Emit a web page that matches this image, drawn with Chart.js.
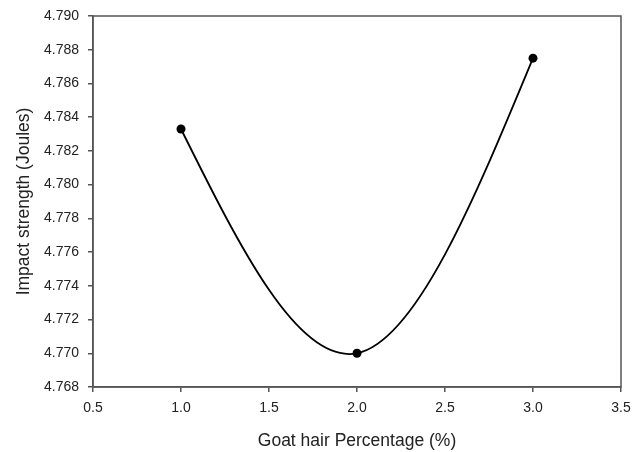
<!DOCTYPE html>
<html>
<head>
<meta charset="utf-8">
<script src="https://cdn.jsdelivr.net/npm/chart.js@4/dist/chart.umd.min.js"></script>
<style>
html,body{margin:0;padding:0;background:#fff;}
#wrap{width:633px;height:452px;position:relative;}
</style>
</head>
<body>
<div id="wrap"><canvas id="c" width="633" height="452"></canvas></div>
<script>
const goatHairPercent = [1.0, 2.0, 3.0];
const impactStrength = [4.7833, 4.7700, 4.7875];
const xTicks = [0.5, 1.0, 1.5, 2.0, 2.5, 3.0, 3.5];
const yTicks = [4.768, 4.770, 4.772, 4.774, 4.776, 4.778, 4.780, 4.782, 4.784, 4.786, 4.788, 4.790];

const points = goatHairPercent.map((x, i) => ({x: x, y: impactStrength[i]}));

// Natural cubic spline control points (like the original plotting software's spline curve)
const naturalSpline = {
  id: 'naturalSpline',
  beforeDatasetsDraw(chart) {
    chart.data.datasets.forEach((ds, di) => {
      const meta = chart.getDatasetMeta(di);
      const line = meta.dataset;
      if (!line) return;
      line.updateControlPoints(chart.chartArea, 'x');
      const pts = meta.data;
      const n = pts.length;
      if (n < 3) return;
      const xs = pts.map(p => p.x), ys = pts.map(p => p.y);
      const h = [];
      for (let i = 0; i < n - 1; i++) h.push(xs[i + 1] - xs[i]);
      const M = new Array(n).fill(0);
      const a = [], b = [], c = [], d = [];
      for (let i = 1; i < n - 1; i++) {
        a.push(h[i - 1]); b.push(2 * (h[i - 1] + h[i])); c.push(h[i]);
        d.push(6 * ((ys[i + 1] - ys[i]) / h[i] - (ys[i] - ys[i - 1]) / h[i - 1]));
      }
      const m = b.length;
      for (let i = 1; i < m; i++) {
        const w = a[i] / b[i - 1];
        b[i] -= w * c[i - 1];
        d[i] -= w * d[i - 1];
      }
      const sol = new Array(m);
      sol[m - 1] = d[m - 1] / b[m - 1];
      for (let i = m - 2; i >= 0; i--) sol[i] = (d[i] - c[i] * sol[i + 1]) / b[i];
      for (let i = 0; i < m; i++) M[i + 1] = sol[i];
      const slope = [];
      for (let i = 0; i < n - 1; i++)
        slope.push((ys[i + 1] - ys[i]) / h[i] - h[i] * (2 * M[i] + M[i + 1]) / 6);
      slope.push((ys[n - 1] - ys[n - 2]) / h[n - 2] + h[n - 2] * (M[n - 2] + 2 * M[n - 1]) / 6);
      for (let i = 0; i < n; i++) {
        const p = pts[i];
        if (i > 0) { p.cp1x = xs[i] - h[i - 1] / 3; p.cp1y = ys[i] - slope[i] * h[i - 1] / 3; }
        else { p.cp1x = xs[i]; p.cp1y = ys[i]; }
        if (i < n - 1) { p.cp2x = xs[i] + h[i] / 3; p.cp2y = ys[i] + slope[i] * h[i] / 3; }
        else { p.cp2x = xs[i]; p.cp2y = ys[i]; }
      }
    });
  }
};

const frame = {
  id: 'frame',
  afterDraw(chart) {
    const ar = chart.chartArea, ctx = chart.ctx;
    ctx.save();
    ctx.strokeStyle = '#555';
    ctx.lineWidth = 1.5;
    ctx.strokeRect(ar.left, ar.top, ar.right - ar.left, ar.bottom - ar.top);
    ctx.restore();
  }
};

const font = {family: '"Liberation Sans", Arial, sans-serif', size: 14};

new Chart(document.getElementById('c'), {
  type: 'scatter',
  data: {
    datasets: [{
      data: points,
      showLine: true,
      tension: 0.4,
      borderColor: '#000',
      borderWidth: 1.8,
      backgroundColor: '#000',
      pointRadius: 4.5,
      pointBorderWidth: 0,
      pointHoverRadius: 4.5
    }]
  },
  options: {
    responsive: false,
    animation: false,
    devicePixelRatio: 1,
    layout: {padding: {left: 0, right: 12, top: 16, bottom: 0}},
    plugins: {legend: {display: false}, tooltip: {enabled: false}},
    scales: {
      x: {
        type: 'linear',
        min: xTicks[0], max: xTicks[xTicks.length - 1],
        afterBuildTicks: s => { s.ticks = xTicks.map(v => ({value: v})); },
        afterFit: s => { s.height = 65; s.paddingLeft = 0; s.paddingRight = 0; },
        grid: {drawOnChartArea: false, drawTicks: true, tickLength: 5, color: '#555', lineWidth: 1.5},
        border: {display: true, color: '#555', width: 1.5},
        ticks: {color: '#222', font: font, padding: 8, maxRotation: 0,
                callback: v => Number(v).toFixed(1)},
        title: {display: true, text: 'Goat hair Percentage (%)', color: '#222',
                font: {family: font.family, size: 17.5}, padding: {top: 10, bottom: 0}}
      },
      y: {
        type: 'linear',
        min: yTicks[0], max: yTicks[yTicks.length - 1],
        afterBuildTicks: s => { s.ticks = yTicks.map(v => ({value: v})); },
        afterFit: s => { s.width = 93; s.paddingTop = 0; s.paddingBottom = 0; },
        grid: {drawOnChartArea: false, drawTicks: true, tickLength: 5, color: '#555', lineWidth: 1.5},
        border: {display: true, color: '#555', width: 1.5},
        ticks: {color: '#222', font: font, padding: 9,
                callback: v => Number(v).toFixed(3)},
        title: {display: true, text: 'Impact strength (Joules)', color: '#222',
                font: {family: font.family, size: 17.5}, padding: {top: 14, bottom: 8}}
      }
    }
  },
  plugins: [naturalSpline, frame]
});
</script>
</body>
</html>
